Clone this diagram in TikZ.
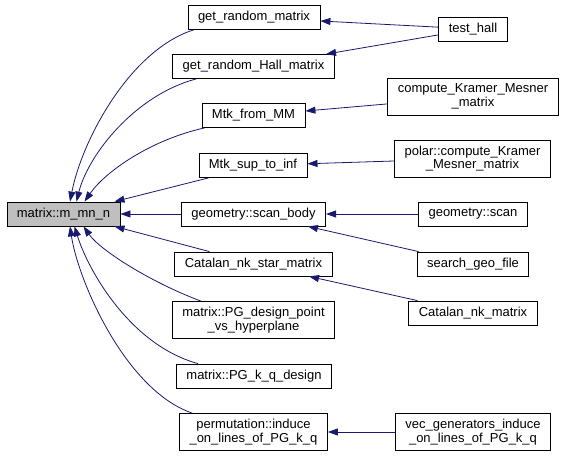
\documentclass[tikz,border=0pt]{standalone}
\usepackage{fontspec}
\setmainfont{Liberation Sans}
\usetikzlibrary{arrows.meta}
\definecolor{edgeblue}{HTML}{191970}
\begin{document}
\begin{tikzpicture}[x=1pt, y=-1pt,
  fn/.style={draw=black,fill=white,line width=0.8pt,font=\fontsize{13}{13.5}\selectfont,inner xsep=10pt,inner ysep=3pt,minimum height=24pt,align=center},
  fn2/.style={fn,minimum height=37pt},
  call/.style={draw=edgeblue,line width=0.8pt,-{Triangle[length=10pt,width=7pt]}}]
\useasboundingbox (0,0) rectangle (566,457);
\node[fn,fill=black!25] (mmn) at (63.5,214) {matrix::m\_mn\_n};
\node[fn] (grm) at (254,17.5) {get\_random\_matrix};
\node[fn] (grhm) at (253.5,66.5) {get\_random\_Hall\_matrix};
\node[fn] (mfm) at (253.5,115.5) {Mtk\_from\_MM};
\node[fn] (msti) at (253,165.5) {Mtk\_sup\_to\_inf};
\node[fn] (gsb) at (253.5,214) {geometry::scan\_body};
\node[fn] (cnsm) at (253.5,264) {Catalan\_nk\_star\_matrix};
\node[fn2] (pgdp) at (253.5,320) {matrix::PG\_design\_point\\\_vs\_hyperplane};
\node[fn] (pgkq) at (254,376) {matrix::PG\_k\_q\_design};
\node[fn2] (pind) at (253.5,432) {permutation::induce\\\_on\_lines\_of\_PG\_k\_q};
\node[fn] (th) at (473,29) {test\_hall};
\node[fn2] (ckmm) at (473,96.5) {compute\_Kramer\_Mesner\\\_matrix};
\node[fn2] (pckmm) at (472.5,158.5) {polar::compute\_Kramer\\\_Mesner\_matrix};
\node[fn] (gscan) at (473,214) {geometry::scan};
\node[fn] (sgf) at (473,264) {search\_geo\_file};
\node[fn] (cnm) at (473,313) {Catalan\_nk\_matrix};
\node[fn2] (vgind) at (473,432) {vec\_generators\_induce\\\_on\_lines\_of\_PG\_k\_q};
% callers of m_mn_n
\draw[call] ([xshift=6]grm.south west) .. controls (130,50) and (82,140) .. ([xshift=6.5]mmn.north);
\draw[call] ([xshift=24]grhm.south west) .. controls (135,95) and (88,155) .. ([xshift=13]mmn.north);
\draw[call] ([xshift=3]mfm.south west) .. controls (150,140) and (105,172) .. ([xshift=21]mmn.north);
\draw[call] ([xshift=10]msti.south west) -- ([xshift=51]mmn.north);
\draw[call] (gsb) -- (mmn);
\draw[call] ([xshift=35]cnsm.north west) -- ([xshift=51]mmn.south);
\draw[call] ([xshift=29]pgdp.north west) .. controls (150,282) and (100,250) .. ([xshift=20]mmn.south);
\draw[call] ([xshift=22]pgkq.north west) .. controls (130,345) and (88,270) .. ([xshift=11]mmn.south);
\draw[call] ([xshift=13]pind.north west) .. controls (125,390) and (78,280) .. ([xshift=6.5]mmn.south);
% second level
\draw[call] (th) -- (grm);
\draw[call] (th) -- (grhm);
\draw[call] (ckmm) -- (mfm);
\draw[call] (pckmm) -- (msti);
\draw[call] (gscan) -- (gsb);
\draw[call] (sgf) -- (gsb);
\draw[call] (cnm) -- (cnsm);
\draw[call] (vgind) -- (pind);
\end{tikzpicture}
\end{document}
